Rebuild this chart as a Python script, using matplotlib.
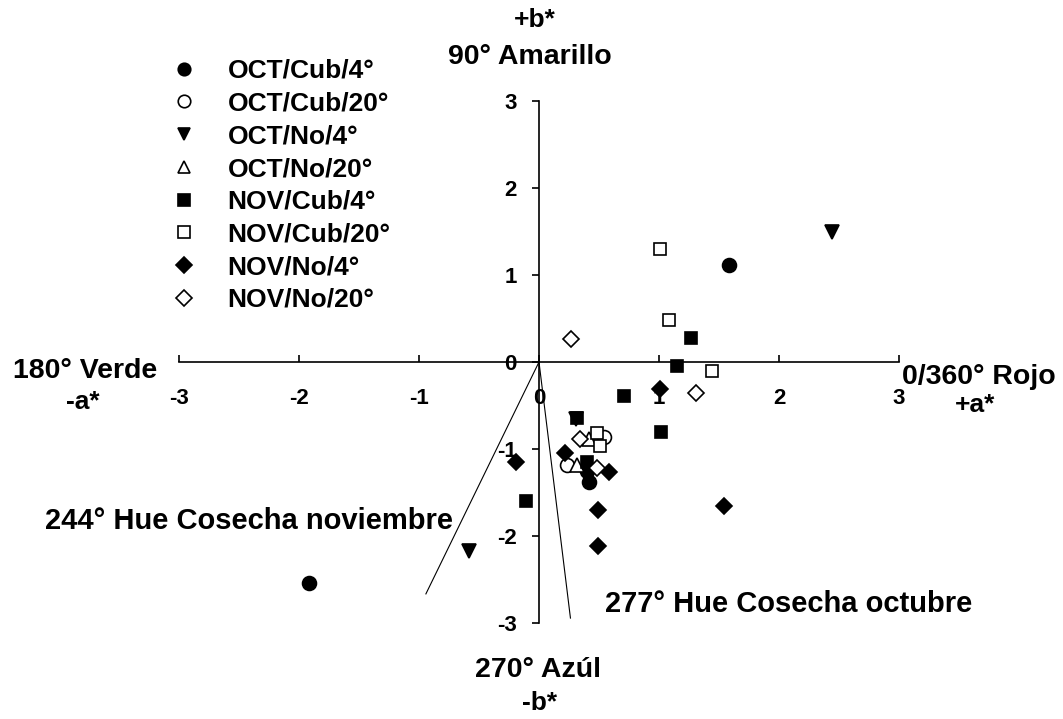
import numpy as np
import matplotlib.pyplot as plt

plt.rcParams['font.family'] = ['Liberation Sans', 'DejaVu Sans']
plt.rcParams['font.weight'] = 'bold'

# a* / b* values per treatment (harvest month / coating / storage temperature)
labels = ["OCT/Cub/4°", "OCT/Cub/20°", "OCT/No/4°", "OCT/No/20°",
          "NOV/Cub/4°", "NOV/Cub/20°", "NOV/No/4°", "NOV/No/20°"]

oct_cub_4_a = [1.58, -1.92, 0.42, 0.40]
oct_cub_4_b = [1.11, -2.54, -1.38, -1.25]
oct_cub_20_a = [0.23, 0.54]
oct_cub_20_b = [-1.18, -0.86]
oct_no_4_a = [2.44, -0.58, 0.31]
oct_no_4_b = [1.50, -2.17, -0.66]
oct_no_20_a = [0.32, 0.42]
oct_no_20_b = [-1.18, -0.88]
nov_cub_4_a = [1.27, 1.15, 0.71, 0.32, 1.02, -0.11, 0.40]
nov_cub_4_b = [0.28, -0.05, -0.39, -0.64, -0.80, -1.60, -1.15]
nov_cub_20_a = [1.01, 1.08, 1.44, 0.48, 0.51]
nov_cub_20_b = [1.30, 0.48, -0.10, -0.82, -0.96]
nov_no_4_a = [1.01, 0.22, 0.58, 0.49, 0.49, 1.54, -0.19]
nov_no_4_b = [-0.31, -1.05, -1.26, -1.70, -2.12, -1.65, -1.15]
nov_no_20_a = [0.27, 1.31, 0.34, 0.48]
nov_no_20_b = [0.27, -0.36, -0.89, -1.22]

hue_angles = [244, 277]
ticks = [-3, -2, -1, 0, 1, 2, 3]

a_vals = [oct_cub_4_a, oct_cub_20_a, oct_no_4_a, oct_no_20_a,
          nov_cub_4_a, nov_cub_20_a, nov_no_4_a, nov_no_20_a]
b_vals = [oct_cub_4_b, oct_cub_20_b, oct_no_4_b, oct_no_20_b,
          nov_cub_4_b, nov_cub_20_b, nov_no_4_b, nov_no_20_b]
markers = ["o", "o", "v", "^", "s", "s", "D", "D"]
msizes = [10, 10, 10, 10, 9, 9, 8.5, 8.5]
faces = ["black", "white", "black", "white", "black", "white", "black", "white"]

W, H = 1063, 719
fig = plt.figure(figsize=(W / 100, H / 100), dpi=100)
ax = fig.add_axes([179 / W, 1 - 623 / H, 720 / W, 522 / H])
ax.set_xlim(-3, 3)
ax.set_ylim(-3, 3)

for sp in ["top", "right"]:
    ax.spines[sp].set_visible(False)
ax.spines["left"].set_position(("data", 0))
ax.spines["bottom"].set_position(("data", 0))
for sp in ["left", "bottom"]:
    ax.spines[sp].set_linewidth(1.2)

ax.set_xticks(ticks)
ax.set_yticks(ticks)
ax.set_xticklabels([str(t) for t in ticks], fontsize=16, fontweight="bold")
ax.set_yticklabels([str(t) for t in ticks], fontsize=16, fontweight="bold")
ax.tick_params(axis="x", direction="in", length=5, width=1.2, pad=19)
ax.tick_params(axis="y", direction="out", length=5, width=1.2, pad=11)

# hue angle lines, drawn at the angle seen on the page
o = ax.transData.transform((0, 0))
r = 258 * fig.dpi / 100
for ang in hue_angles:
    t = np.deg2rad(ang)
    end = ax.transData.inverted().transform(o + r * np.array([np.cos(t), np.sin(t)]))
    ax.plot([0, end[0]], [0, end[1]], color="black", lw=0.8, zorder=1)

for a, b, m, ms, fc, lab in zip(a_vals, b_vals, markers, msizes, faces, labels):
    ax.plot(a, b, linestyle="none", marker=m, markersize=ms, markerfacecolor=fc,
            markeredgecolor="black", markeredgewidth=1.2, label=lab, clip_on=False, zorder=3)

fig.legend(loc="upper left", bbox_to_anchor=(171 / W, 1 - 59 / H), frameon=False,
           prop={"size": 19, "weight": "bold"}, handlelength=1.0, handletextpad=1.15,
           labelspacing=0.33, borderpad=0, borderaxespad=0, numpoints=1, markerscale=0.9)

fig.text(535 / W, 1 - 20 / H, "+b*", ha="center", va="center", fontsize=19)
fig.text(530 / W, 1 - 57 / H, "90° Amarillo", ha="center", va="center", fontsize=20.5)
fig.text(85 / W, 1 - 371 / H, "180° Verde", ha="center", va="center", fontsize=20.5)
fig.text(83 / W, 1 - 402 / H, "-a*", ha="center", va="center", fontsize=19)
fig.text(902 / W, 1 - 377 / H, "0/360° Rojo", ha="left", va="center", fontsize=20.5)
fig.text(975 / W, 1 - 405 / H, "+a*", ha="center", va="center", fontsize=19)
fig.text(538 / W, 1 - 670 / H, "270° Azúl", ha="center", va="center", fontsize=20.5)
fig.text(540 / W, 1 - 703 / H, "-b*", ha="center", va="center", fontsize=19)
fig.text(45 / W, 1 - 521 / H, "244° Hue Cosecha noviembre", ha="left", va="center", fontsize=21)
fig.text(605 / W, 1 - 604 / H, "277° Hue Cosecha octubre", ha="left", va="center", fontsize=21)

fig.savefig("out.png", dpi=100)
